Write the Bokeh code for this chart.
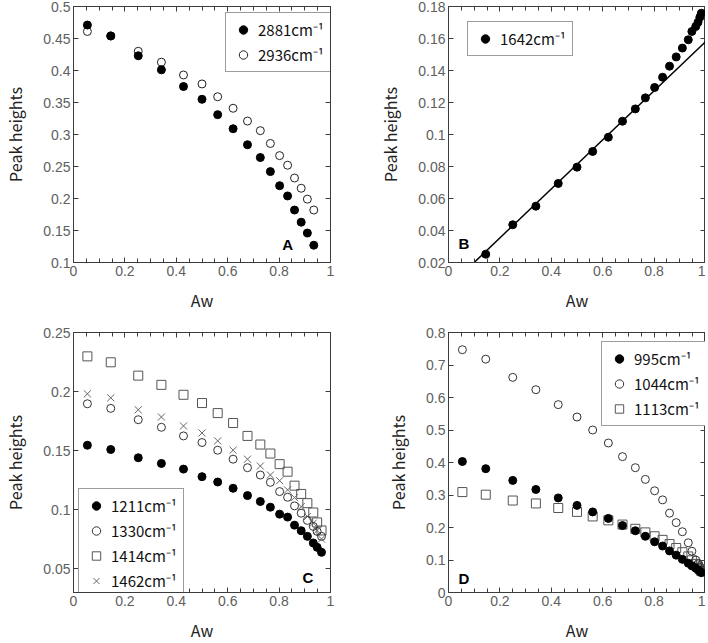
from bokeh.plotting import figure
from bokeh.layouts import gridplot
from bokeh.models import (FixedTicker, LinearAxis, Range1d, Legend, LegendItem,
                          Label, CustomJSTickFormatter)
from bokeh.embed import file_html
from bokeh.resources import INLINE

# ---------------- data ----------------
aw_a = [0.054, 0.145, 0.252, 0.342, 0.428, 0.500, 0.561, 0.621, 0.677, 0.727,
        0.766, 0.802, 0.833, 0.860, 0.886, 0.910, 0.935]
a_2881 = [0.471, 0.454, 0.423, 0.401, 0.375, 0.355, 0.331, 0.309, 0.284, 0.264,
          0.242, 0.220, 0.204, 0.182, 0.163, 0.146, 0.127]
a_2936 = [0.461, 0.454, 0.430, 0.413, 0.393, 0.379, 0.359, 0.341, 0.321, 0.306,
          0.286, 0.267, 0.252, 0.232, 0.216, 0.199, 0.182]

aw_b = [0.145, 0.250, 0.340, 0.427, 0.500, 0.561, 0.622, 0.677, 0.727, 0.766,
        0.802, 0.833, 0.860, 0.886, 0.910, 0.933, 0.947, 0.962, 0.971, 0.978, 0.984]
b_1642 = [0.0252, 0.0436, 0.0552, 0.0694, 0.0796, 0.0894, 0.0983, 0.1083, 0.1160, 0.1229,
          0.1294, 0.1358, 0.1427, 0.1485, 0.1540, 0.1592, 0.1644, 0.1675, 0.1702, 0.1733, 0.1758]
fit_x = [0.0, 1.0]
fit_y = [0.0047, 0.1580]

aw_c = [0.054, 0.145, 0.252, 0.342, 0.428, 0.500, 0.561, 0.621, 0.677, 0.727,
        0.766, 0.802, 0.833, 0.860, 0.886, 0.910, 0.933, 0.948, 0.965]
c_1211 = [0.1546, 0.1510, 0.1440, 0.1392, 0.1344, 0.1280, 0.1235, 0.1182, 0.1120, 0.1070,
          0.1022, 0.0963, 0.0938, 0.0870, 0.0823, 0.0775, 0.0719, 0.0682, 0.0640]
c_1330 = [0.1897, 0.1858, 0.1762, 0.1698, 0.1625, 0.1569, 0.1504, 0.1428, 0.1356, 0.1294,
          0.1232, 0.1154, 0.1106, 0.1033, 0.0971, 0.0910, 0.0859, 0.0817, 0.0775]
c_1414 = [0.2298, 0.2248, 0.2135, 0.2057, 0.1973, 0.1903, 0.1818, 0.1734, 0.1625, 0.1552,
          0.1476, 0.1386, 0.1322, 0.1204, 0.1134, 0.1056, 0.0977, 0.0893, 0.0825]
c_1462 = [0.1981, 0.1947, 0.1846, 0.1785, 0.1709, 0.1650, 0.1583, 0.1504, 0.1428, 0.1370,
          0.1294, 0.1246, 0.1168, 0.1103, 0.1027, 0.0943, 0.0887, 0.0825, 0.0753]

aw_d = [0.054, 0.145, 0.250, 0.340, 0.427, 0.500, 0.561, 0.622, 0.677, 0.727, 0.766,
        0.802, 0.833, 0.860, 0.886, 0.910, 0.933, 0.947, 0.962, 0.971, 0.978, 0.984]
d_995 = [0.403, 0.381, 0.345, 0.317, 0.291, 0.268, 0.248, 0.228, 0.206, 0.190, 0.173,
         0.156, 0.143, 0.128, 0.115, 0.102, 0.090, 0.082, 0.075, 0.070, 0.065, 0.061]
d_1044 = [0.747, 0.718, 0.662, 0.624, 0.578, 0.540, 0.500, 0.460, 0.418, 0.384, 0.348,
          0.313, 0.285, 0.244, 0.215, 0.187, 0.153, 0.127, 0.100, 0.088, 0.078, 0.068]
d_1113 = [0.309, 0.301, 0.283, 0.274, 0.260, 0.248, 0.234, 0.222, 0.209, 0.196, 0.185,
          0.173, 0.162, 0.149, 0.137, 0.124, 0.111, 0.099, 0.088, 0.080, 0.072, 0.066]

x_ticks = [0, 0.2, 0.4, 0.6, 0.8, 1.0]
x_minor = [0, 0.05, 0.1, 0.15, 0.2, 0.25, 0.3, 0.35, 0.4, 0.45, 0.5, 0.55, 0.6,
           0.65, 0.7, 0.75, 0.8, 0.85, 0.9, 0.95, 1.0]
ya_ticks = [0.1, 0.15, 0.2, 0.25, 0.3, 0.35, 0.4, 0.45, 0.5]
yb_ticks = [0.02, 0.04, 0.06, 0.08, 0.1, 0.12, 0.14, 0.16, 0.18]
yc_ticks = [0.05, 0.1, 0.15, 0.2, 0.25]
yd_ticks = [0, 0.1, 0.2, 0.3, 0.4, 0.5, 0.6, 0.7, 0.8]

# ---------------- style ----------------
TICK_FONT = "Liberation Sans"
TEXT_FONT = "Noto Sans CJK JP"
AX = "#3c3c3c"
FMT = "return String(Math.round(tick*1000)/1000);"


def style_axis(ax, labels=True):
    ax.axis_line_color = AX
    ax.major_tick_line_color = AX
    ax.minor_tick_line_color = AX
    ax.major_tick_in = 5
    ax.major_tick_out = 0
    ax.minor_tick_in = 4
    ax.minor_tick_out = 0
    if labels:
        ax.major_label_text_font = TICK_FONT
        ax.major_label_text_font_size = "14px"
        ax.major_label_text_color = "#606060"
        ax.major_label_standoff = 3
        ax.axis_label_text_font = TEXT_FONT
        ax.axis_label_text_font_size = "16px"
        ax.axis_label_text_font_style = "normal"
        ax.axis_label_text_color = "#222222"
    else:
        ax.major_label_text_font_size = "0px"
        ax.major_label_standoff = 0
        ax.formatter = CustomJSTickFormatter(code="return '';")


def make_panel(y_lo, y_hi, y_ticks, bl, bt, br, bb, fh):
    p = figure(frame_width=257, frame_height=fh, x_range=Range1d(0, 1),
               y_range=Range1d(y_lo, y_hi), output_backend="svg",
               toolbar_location=None, min_border_left=bl, min_border_top=bt,
               min_border_right=br, min_border_bottom=bb,
               x_axis_label="Aw", y_axis_label="Peak heights")
    p.grid.visible = False
    p.outline_line_color = AX
    p.outline_line_width = 1
    xt = FixedTicker(ticks=x_ticks, minor_ticks=x_minor)
    yt = FixedTicker(ticks=y_ticks, minor_ticks=[])
    xa = p.xaxis[0]
    ya = p.yaxis[0]
    xa.ticker = xt
    ya.ticker = yt
    xa.formatter = CustomJSTickFormatter(code=FMT)
    ya.formatter = CustomJSTickFormatter(code=FMT)
    style_axis(xa)
    style_axis(ya)
    xa.axis_label_standoff = 9
    ya.axis_label_standoff = 13
    top = LinearAxis(ticker=xt)
    right = LinearAxis(ticker=yt)
    style_axis(top, labels=False)
    style_axis(right, labels=False)
    p.add_layout(top, "above")
    p.add_layout(right, "right")
    return p


def add_legend(p, items, loc):
    leg = Legend(items=items, location=loc, padding=6, spacing=4,
                 glyph_width=22, glyph_height=21, label_height=21,
                 label_standoff=4, label_text_font=TEXT_FONT,
                 label_text_font_size="15px", label_text_color="#111111",
                 border_line_color=AX, border_line_width=1,
                 background_fill_color="white", background_fill_alpha=1.0,
                 margin=0)
    p.add_layout(leg)


def panel_letter(p, x, y, txt):
    p.add_layout(Label(x=x, y=y, text=txt, text_font="Liberation Sans",
                       text_font_style="bold", text_font_size="15px",
                       text_align="center", text_baseline="middle",
                       text_color="#000000"))


SZ = 8

# ---- A ----
pa = make_panel(0.1, 0.5, ya_ticks, 63, 6, 26, 48, 256)
ra2 = pa.scatter(aw_a, a_2936, marker="circle", size=SZ, fill_color=None,
                 line_color="#222222", line_width=1)
ra1 = pa.scatter(aw_a, a_2881, marker="circle", size=SZ, fill_color="black",
                 line_color="black")
add_legend(pa, [LegendItem(label="2881cm⁻¹", renderers=[ra1]),
                LegendItem(label="2936cm⁻¹", renderers=[ra2])], (152, 190))
panel_letter(pa, 0.833, 0.128, "A")

# ---- B ----
pb = make_panel(0.02, 0.18, yb_ticks, 92, 6, 0, 48, 256)
pb.line(fit_x, fit_y, line_color="black", line_width=1.5)
rb1 = pb.scatter(aw_b, b_1642, marker="circle", size=SZ, fill_color="black",
                 line_color="black")
add_legend(pb, [LegendItem(label="1642cm⁻¹", renderers=[rb1])], (19, 206))
panel_letter(pb, 0.06, 0.032, "B")

# ---- C ----
pc = make_panel(0.03, 0.25, yc_ticks, 64, 18, 25, 39, 260)
rc3 = pc.scatter(aw_c, c_1414, marker="square", size=SZ + 1, fill_color=None,
                 line_color="#555555", line_width=1)
rc4 = pc.scatter(aw_c, c_1462, marker="x", size=SZ + 2, line_color="#666666",
                 line_width=1)
rc2 = pc.scatter(aw_c, c_1330, marker="circle", size=SZ, fill_color=None,
                 line_color="#333333", line_width=1)
rc1 = pc.scatter(aw_c, c_1211, marker="circle", size=SZ, fill_color="black",
                 line_color="black")
add_legend(pc, [LegendItem(label="1211cm⁻¹", renderers=[rc1]),
                LegendItem(label="1330cm⁻¹", renderers=[rc2]),
                LegendItem(label="1414cm⁻¹", renderers=[rc3]),
                LegendItem(label="1462cm⁻¹", renderers=[rc4])], (5, -6))
panel_letter(pc, 0.912, 0.0424, "C")

# ---- D ----
pd_ = make_panel(0, 0.8, yd_ticks, 92, 18, 0, 39, 260)
rd3 = pd_.scatter(aw_d, d_1113, marker="square", size=SZ + 1, fill_color=None,
                  line_color="#555555", line_width=1)
rd2 = pd_.scatter(aw_d, d_1044, marker="circle", size=SZ, fill_color=None,
                  line_color="#333333", line_width=1)
rd1 = pd_.scatter(aw_d, d_995, marker="circle", size=SZ, fill_color="black",
                  line_color="black")
add_legend(pd_, [LegendItem(label="995cm⁻¹", renderers=[rd1]),
                 LegendItem(label="1044cm⁻¹", renderers=[rd2]),
                 LegendItem(label="1113cm⁻¹", renderers=[rd3])], (153, 166))
panel_letter(pd_, 0.06, 0.042, "D")

grid = gridplot([[pa, pb], [pc, pd_]], toolbar_location=None)

open("out.html", "w").write(file_html(grid, INLINE))
